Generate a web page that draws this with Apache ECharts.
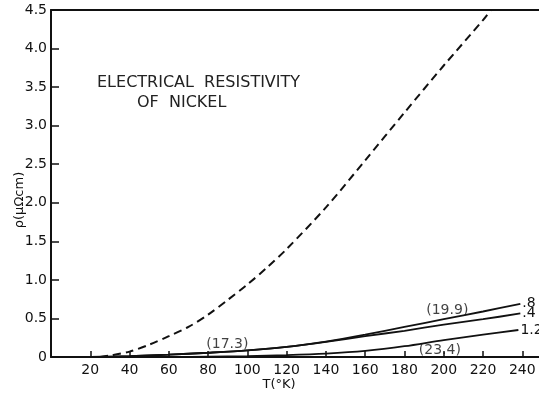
<!DOCTYPE html>
<html><head><meta charset="utf-8">
<script src="https://cdn.jsdelivr.net/npm/echarts@6/dist/echarts.min.js"></script>
<style>html,body{margin:0;padding:0;background:#fff}#c{width:539px;height:396px}</style>
</head><body><div id="c"></div>
<script>
// Temperature tick labels (K) and resistivity ticks
const xTicks = [20, 40, 60, 80, 100, 120, 140, 160, 180, 200, 220, 240];
const yTicks = [0, 0.5, 1.0, 1.5, 2.0, 2.5, 3.0, 3.5, 4.0, 4.5];

// Dashed curve
const dashT   = [25, 30, 40, 50, 60, 70, 80, 90, 100, 110, 120, 140, 160, 180, 200, 220, 224];
const dashRho = [0, 0.02, 0.07, 0.16, 0.27, 0.39, 0.55, 0.74, 0.94, 1.16, 1.40, 1.94, 2.55, 3.17, 3.78, 4.37, 4.5];

// Curve ".8"
const c8T   = [20, 40, 60, 80, 100, 120, 140, 160, 180, 200, 220, 239];
const c8Rho = [0, 0.01, 0.03, 0.055, 0.085, 0.13, 0.2, 0.29, 0.39, 0.49, 0.59, 0.69];

// Curve ".4"
const c4T   = [20, 40, 60, 80, 100, 120, 140, 160, 180, 200, 220, 239];
const c4Rho = [0, 0.01, 0.03, 0.055, 0.085, 0.13, 0.195, 0.27, 0.34, 0.42, 0.49, 0.565];

// Curve "1.2"
const c12T   = [60, 80, 100, 120, 140, 160, 180, 200, 220, 238];
const c12Rho = [0, 0.005, 0.012, 0.025, 0.045, 0.08, 0.14, 0.22, 0.29, 0.35];

// Annotations in parentheses
const annoT    = [89.8, 201.8, 198];
const annoRho  = [0.17, 0.60, 0.08];
const annoText = ['(17.3)', '(19.9)', '(23.4)'];

const zip = (a, b) => a.map((v, i) => [v, b[i]]);
const INK = '#111';
const FONT = 'DejaVu Sans';

const chart = echarts.init(document.getElementById('c'), null, {renderer: 'canvas'});
const solid = (name, t, r, lbl) => ({
  type: 'line', name, data: zip(t, r), showSymbol: false, smooth: 0.3,
  lineStyle: {color: INK, width: 1.8},
  endLabel: {show: true, formatter: lbl, fontSize: 14, fontFamily: FONT, color: INK, distance: 2},
  z: 3
});

chart.setOption({
  animation: false,
  backgroundColor: '#fff',
  grid: {left: 51, right: 0, top: 10, bottom: 39, containLabel: false},
  xAxis: [{
    type: 'value', min: 0, max: 248.5, interval: 20,
    axisLine: {show: true, onZero: false, lineStyle: {color: INK, width: 2}},
    axisTick: {show: true, inside: true, length: 6, customValues: xTicks, lineStyle: {color: INK, width: 1.5}},
    axisLabel: {show: true, customValues: xTicks, margin: 6, fontSize: 14, fontFamily: FONT, color: INK},
    splitLine: {show: false}
  }, {
    type: 'value', position: 'top', min: 0, max: 248.5,
    axisLine: {show: true, onZero: false, lineStyle: {color: INK, width: 2}},
    axisTick: {show: false}, axisLabel: {show: false}, splitLine: {show: false}
  }],
  yAxis: {
    type: 'value', min: 0, max: 4.5, interval: 0.5,
    axisLine: {show: true, onZero: false, lineStyle: {color: INK, width: 2}},
    axisTick: {show: true, inside: true, length: 8, customValues: yTicks, lineStyle: {color: INK, width: 1.5}},
    axisLabel: {show: true, customValues: yTicks, margin: 4, fontSize: 14, fontFamily: FONT, color: INK,
      formatter: v => v === 0 ? '0' : v.toFixed(1)},
    splitLine: {show: false}
  },
  graphic: [
    {type: 'text', left: 97, top: 75, style: {text: 'ELECTRICAL  RESISTIVITY', fontSize: 16, fontFamily: FONT, fill: '#222'}},
    {type: 'text', left: 137, top: 95, style: {text: 'OF  NICKEL', fontSize: 16, fontFamily: FONT, fill: '#222'}},
    {type: 'text', x: 279, y: 385, style: {text: 'T(°K)', fontSize: 13, fontFamily: FONT, fill: INK, align: 'center', verticalAlign: 'middle'}},
    {type: 'text', x: 20, y: 200, rotation: Math.PI / 2, style: {text: 'ρ(μΩcm)', fontSize: 13, fontFamily: FONT, fill: INK, align: 'center', verticalAlign: 'middle'}}
  ],
  series: [
    {type: 'line', name: 'dashed', data: zip(dashT, dashRho), showSymbol: false, smooth: 0.3,
      lineStyle: {color: INK, width: 2, type: [8, 5]}, z: 3},
    solid('c8', c8T, c8Rho, '.8'),
    solid('c4', c4T, c4Rho, '.4'),
    solid('c12', c12T, c12Rho, '1.2'),
    {type: 'scatter', name: 'anno', symbolSize: 1, itemStyle: {color: 'rgba(0,0,0,0)'},
      data: annoT.map((t, i) => [t, annoRho[i], annoText[i]]),
      label: {show: true, position: 'inside', formatter: p => p.data[2], fontSize: 14, fontFamily: FONT, color: INK},
      z: 4}
  ]
});
</script></body></html>
